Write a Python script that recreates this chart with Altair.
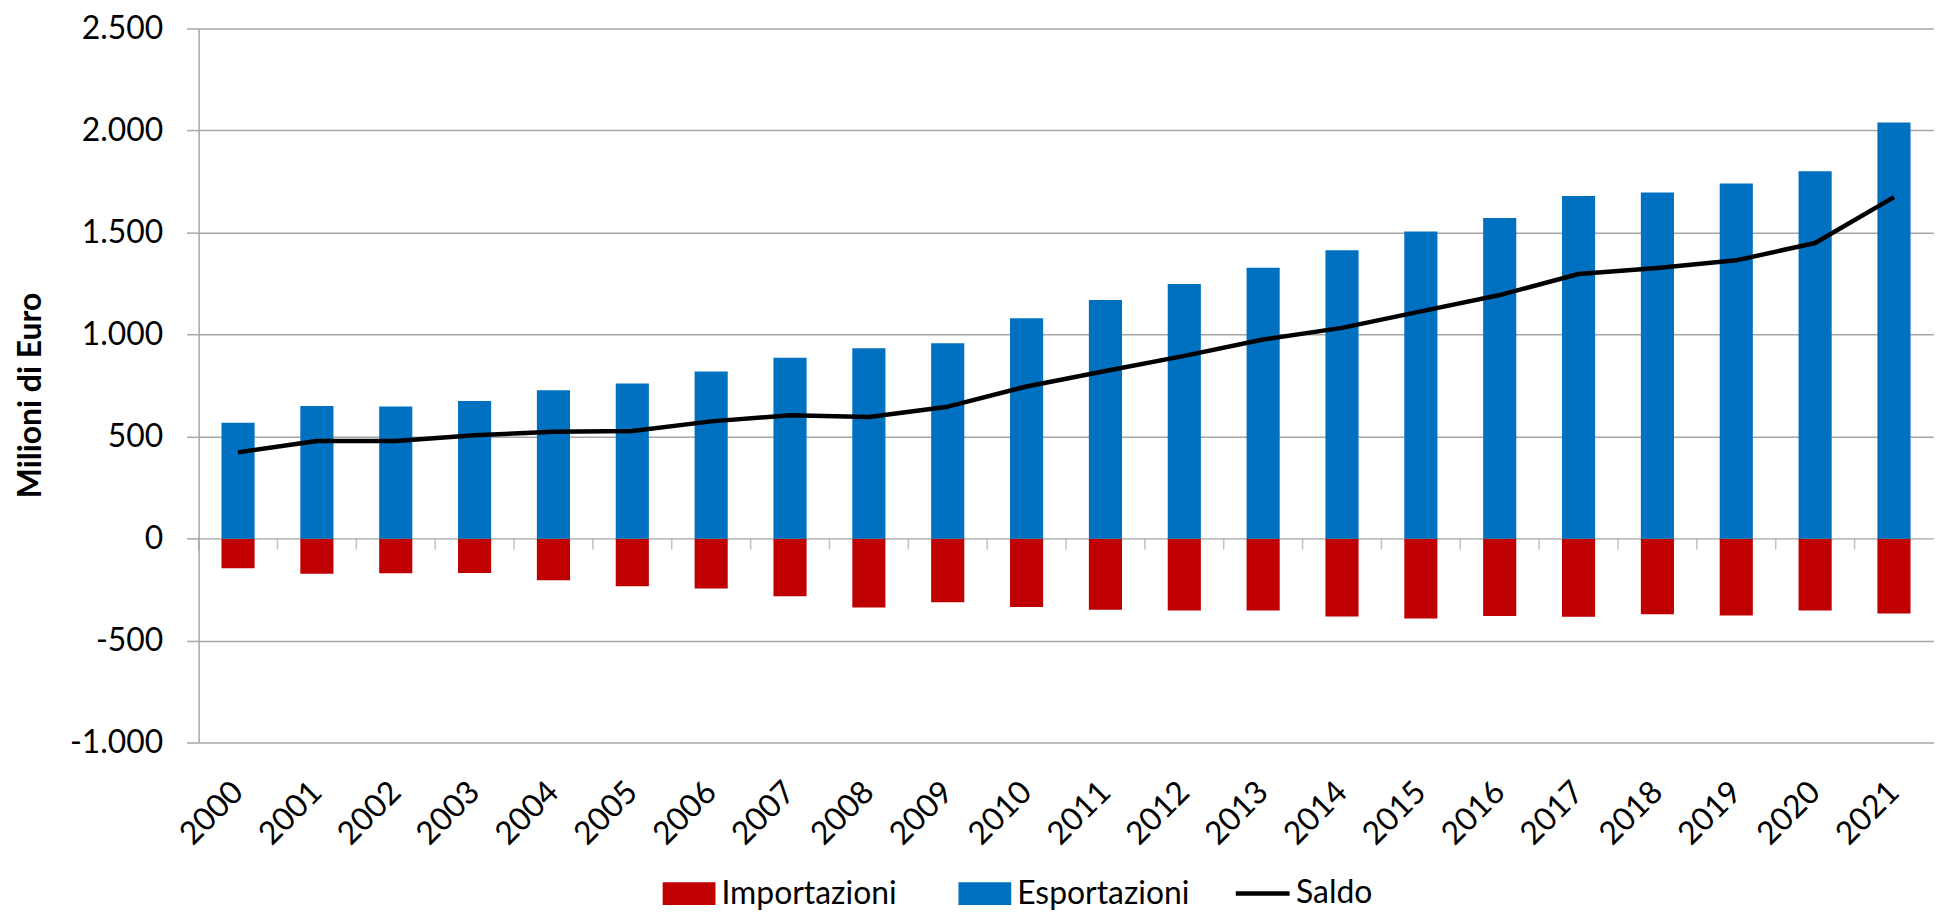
import altair as alt
import pandas as pd

# --- data (milioni di euro) ---
anni = [str(y) for y in range(2000, 2022)]
esportazioni = [568, 650, 648, 675, 728, 761, 819, 887, 933, 958, 1080,
                1170, 1248, 1328, 1414, 1505, 1572, 1679, 1697, 1740, 1801, 2040]
importazioni = [-145, -171, -169, -168, -204, -233, -244, -282, -337, -311, -334,
                -348, -352, -352, -381, -391, -378, -382, -370, -376, -352, -366]
saldo = [423, 479, 479, 507, 524, 528, 575, 605, 596, 647, 746,
         822, 896, 976, 1033, 1114, 1194, 1297, 1327, 1364, 1449, 1674]
serie_barre = ["Importazioni", "Esportazioni"]
colori_barre = ["#C00000", "#0070C0"]
valori_y = [-1000, -500, 0, 500, 1000, 1500, 2000, 2500]

rows = []
for a, e, i in zip(anni, esportazioni, importazioni):
    rows.append({"anno": a, "serie": "Importazioni", "valore": i})
    rows.append({"anno": a, "serie": "Esportazioni", "valore": e})
bars_df = pd.DataFrame(rows)
line_df = pd.DataFrame({"anno": anni, "serie": ["Saldo"] * len(anni), "valore": saldo})
ticks_df = pd.DataFrame({"anno": anni})

W = 1742
H = 717.3
STEP = W / len(anni)
FONT = "Lato"
GRID = "#A6A6A6"
FS = 32

xscale = alt.Scale(domain=anni, paddingInner=0.58, paddingOuter=0.29)
yscale = alt.Scale(domain=[-1000, 2500], nice=False, zero=False)

yaxis = alt.Axis(
    values=valori_y,
    labelExpr="(datum.value < 0 ? '-' : '') + replace(format(abs(datum.value), ','), ',', '.')",
    grid=True, gridColor=GRID, gridWidth=1.5,
    domain=True, domainColor=GRID, domainWidth=1.5,
    ticks=True, tickSize=12, tickColor=GRID, tickWidth=1.5,
    labelFont=FONT, labelFontSize=FS, labelColor="black", labelPadding=24,
    title="Milioni di Euro", titleFont=FONT, titleFontSize=FS, titleFontWeight="bold",
    titleColor="black", titleAngle=270, titleX=-169, titleY=368,
    titleAlign="center", titleBaseline="middle",
)

xaxis = alt.Axis(
    orient="bottom", labelAngle=315, labelAlign="right", labelBaseline="middle",
    labelPadding=44, ticks=False, tickSize=0, domain=False, grid=False, title=None,
    labelFont=FONT, labelFontSize=FS, labelColor="black", labelOverlap=False,
)

# small category ticks hanging below the zero line, at the band boundaries
zero_ticks = alt.Chart(ticks_df).mark_tick(
    orient="vertical", size=11, thickness=1.5, color=GRID,
    xOffset=-STEP / 2, yOffset=5.5,
).encode(
    x=alt.X("anno:N", scale=xscale, axis=xaxis, sort=anni),
    y=alt.datum(0, scale=yscale, axis=yaxis),
)

bars = alt.Chart(bars_df).mark_bar().encode(
    x=alt.X("anno:N", scale=xscale, axis=xaxis, sort=anni),
    y=alt.Y("valore:Q", scale=yscale, axis=yaxis, stack=None),
    color=alt.Color(
        "serie:N",
        scale=alt.Scale(domain=serie_barre, range=colori_barre),
        legend=alt.Legend(
            title=None, orient="none", direction="horizontal",
            legendX=466, legendY=842, padding=0,
            symbolType="M-1,-0.434H1V0.434H-1Z", symbolSize=2809,
            symbolStrokeWidth=0, symbolOpacity=1,
            labelFont=FONT, labelFontSize=FS, labelColor="black",
            labelOffset=6, columnPadding=62, labelLimit=0,
        ),
    ),
)

line = alt.Chart(line_df).mark_line(strokeWidth=4.5, strokeJoin="round").encode(
    x=alt.X("anno:N", scale=xscale, axis=xaxis, sort=anni),
    y=alt.Y("valore:Q", scale=yscale, axis=yaxis),
    color=alt.Color(
        "serie:N",
        scale=alt.Scale(domain=["Saldo"], range=["black"]),
        legend=alt.Legend(
            title=None, orient="none", legendX=1039, legendY=839, padding=0,
            symbolType="stroke", symbolSize=2916, symbolStrokeWidth=4.5,
            labelFont=FONT, labelFontSize=FS, labelColor="black", labelOffset=4,
            labelLimit=0,
        ),
    ),
)

chart = (
    alt.layer(zero_ticks, bars, line)
    .resolve_scale(color="independent")
    .properties(
        width=W, height=H,
        padding={"left": 191.4, "top": 18.7, "right": 0.6, "bottom": 168},
        autosize=alt.AutoSizeParams(type="none"),
        background="white",
    )
    .configure_view(stroke=None)
)

chart.save("out.html", embed_options={"renderer": "svg", "actions": False})
